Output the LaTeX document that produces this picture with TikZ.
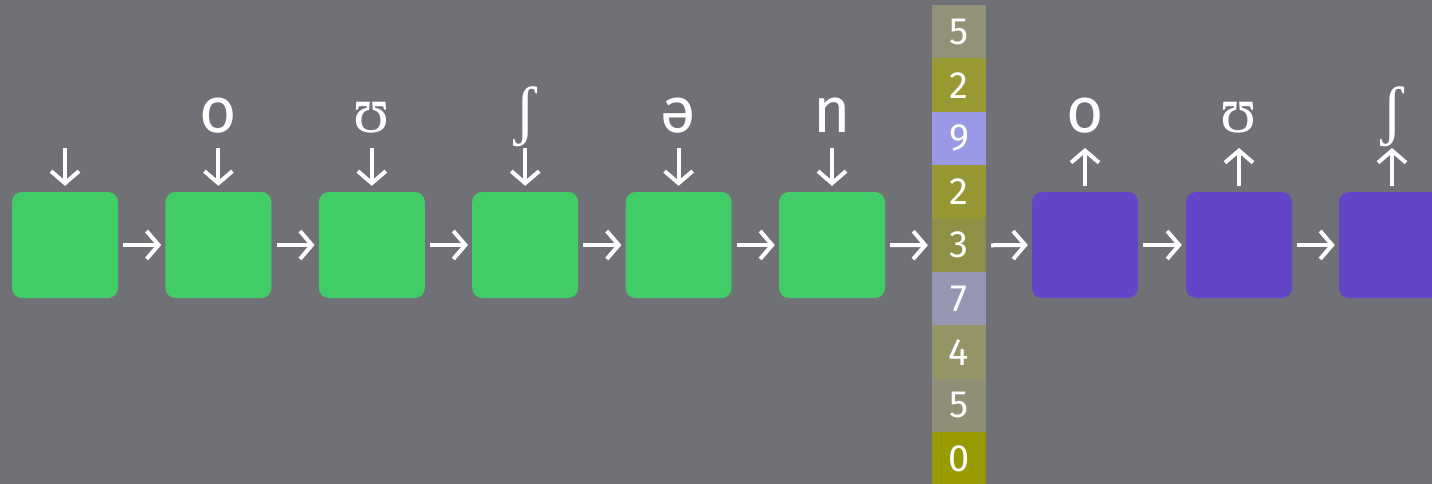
\documentclass[tikz,border=0pt]{standalone}
\usepackage{fontspec}
\setmainfont{Fira Sans}
\newfontfamily\ipaserif{Liberation Serif}
\usetikzlibrary{arrows.meta}
\definecolor{bg}{RGB}{112,113,118}
\definecolor{encg}{RGB}{66,204,104}
\definecolor{decp}{RGB}{100,69,200}
\definecolor{cA}{RGB}{146,146,121}
\definecolor{cB}{RGB}{153,153,51}
\definecolor{cC}{RGB}{153,153,230}
\definecolor{cD}{RGB}{150,150,50}
\definecolor{cE}{RGB}{143,143,69}
\definecolor{cF}{RGB}{150,150,179}
\definecolor{cG}{RGB}{148,148,103}
\definecolor{cH}{RGB}{143,143,120}
\definecolor{cI}{RGB}{153,153,0}
\tikzset{
  cellbox/.style={draw=none, inner sep=0pt, rounded corners=10pt, minimum width=106pt, minimum height=106pt},
  encbox/.style={cellbox, fill=encg},
  decbox/.style={cellbox, fill=decp},
  vecc/.style={draw=none, inner sep=0pt, minimum width=54pt, minimum height=53.4pt, text=white, font=\fontsize{38}{38}\selectfont},
  arr/.style={draw=white, line width=4pt, -{Straight Barb[length=12pt,width=28pt]}},
  harr/.style={arr, shorten <=5pt, shorten >=4pt},
  lab/.style={text=white, anchor=base, inner sep=0pt, font=\fontsize{64}{64}\selectfont},
  labs/.style={text=white, anchor=base, inner sep=0pt, font=\ipaserif\fontsize{66}{66}\selectfont},
}
\begin{document}
\begin{tikzpicture}[x=1pt,y=-1pt]
\fill[bg] (0,0) rectangle (1432,484);
\useasboundingbox (0,0) rectangle (1432,484);
% encoder boxes
\foreach \i/\x in {1/65,2/218.4,3/371.8,4/525.2,5/678.6,6/832}{
  \node[encbox] (e\i) at (\x,245) {};
}
% decoder boxes
\foreach \i/\x in {1/1085,2/1239,3/1392}{
  \node[decbox] (d\i) at (\x,245) {};
}
% vector
\foreach \i/\c/\n in {1/cA/5,2/cB/2,3/cC/9,4/cD/2,5/cE/3,6/cF/7,7/cG/4,8/cH/5,9/cI/0}{
  \node[vecc, fill=\c] (v\i) at (959,{5+26.7+53.4*(\i-1)}) {\n};
}
% input labels
\node[lab] (l2) at (218.4,133) {o};
\node[labs] (l3) at (371.8,133) {ʊ};
\node[labs] (l4) at (525.2,133) {ʃ};
\node[lab] (l5) at (678.6,133) {ə};
\node[lab] (l6) at (832,133) {n};
% output labels
\node[lab] (o1) at (1085,133) {o};
\node[labs] (o2) at (1239,133) {ʊ};
\node[labs] (o3) at (1392,133) {ʃ};
% input arrows
\foreach \i/\x in {1/65,2/218.4,3/371.8,4/525.2,5/678.6,6/832}{
  \coordinate (t\i) at (\x,148);
  \draw[arr, shorten >=6pt] (t\i) -- (e\i.north);
}
% output arrows
\foreach \i/\x in {1/1085,2/1239,3/1392}{
  \coordinate (u\i) at (\x,148);
  \draw[arr, shorten <=6pt] (d\i.north) -- (u\i);
}
% horizontal arrows
\draw[harr] (e1.east) -- (e2.west);
\draw[harr] (e2.east) -- (e3.west);
\draw[harr] (e3.east) -- (e4.west);
\draw[harr] (e4.east) -- (e5.west);
\draw[harr] (e5.east) -- (e6.west);
\draw[harr] (e6.east) -- (v5.west);
\draw[harr] (v5.east) -- (d1.west);
\draw[harr] (d1.east) -- (d2.west);
\draw[harr] (d2.east) -- (d3.west);
\end{tikzpicture}
\end{document}
